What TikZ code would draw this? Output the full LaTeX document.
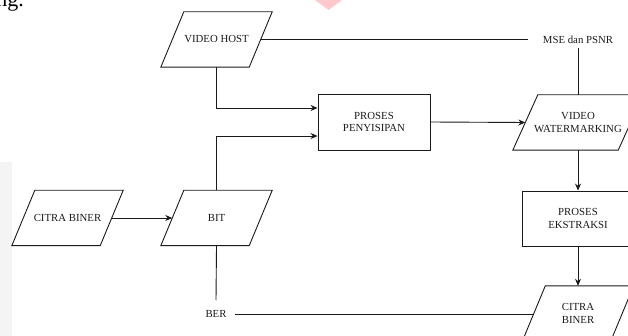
\documentclass[tikz,border=0pt]{standalone}
\usepackage{fontspec}
\setmainfont{Liberation Serif}
\usetikzlibrary{arrows.meta}
\definecolor{ln}{HTML}{1A1A1A}
\definecolor{pinkmark}{RGB}{255,200,205}
\definecolor{strip}{HTML}{F4F4F4}
\tikzset{
  lbl/.style={font=\fontsize{10.8}{12.5}\selectfont, text=ln, align=center},
  para/.style={lbl, rectangle, inner sep=0pt, minimum height=55pt},
  paraline/.style={draw=ln, line width=0.9pt, line join=miter},
  procbox/.style={lbl, draw=ln, line width=0.9pt, rectangle, inner sep=0pt,
    minimum height=56pt},
  conn/.style={draw=ln, line width=0.9pt},
  arr/.style={conn, -{Stealth[length=7pt,width=6pt]}}
}
\begin{document}
\begin{tikzpicture}[x=1pt,y=-1pt]
\useasboundingbox (0,0) rectangle (628,336);
% page artifacts
\fill[strip] (0,162) rectangle (12,336);
\fill[pinkmark] (315,0) -- (342,0) -- (328.5,10) -- cycle;
\node[anchor=base east, font=\fontsize{22}{24}\selectfont, inner sep=0pt] (frag) at (24,7) {ng.};
% nodes (parallelogram nodes: width measured at mid height)
\node[para, minimum width=88pt] (vh) at (216.5,39.5) {VIDEO HOST};
\node[para, minimum width=88pt] (bit) at (216.5,218) {BIT};
\node[para, minimum width=88pt] (cb1) at (67.5,218) {CITRA BINER};
\node[procbox, minimum width=112pt] (pen) at (374,122) {PROSES\\PENYISIPAN};
\node[para, minimum width=105pt] (vw) at (578,122.5) {VIDEO\\WATERMARKING};
\node[procbox, minimum width=112pt, minimum height=55pt] (eks) at (578,218.5) {PROSES\\EKSTRAKSI};
\node[para, minimum width=88pt] (cb2) at (578,313.5) {CITRA\\BINER};
\node[lbl, inner xsep=15pt, inner ysep=4.5pt] (mse) at (578,40) {MSE dan PSNR};
\node[lbl, inner xsep=8pt, inner ysep=10pt] (ber) at (216,314) {BER};
% parallelogram outlines
\foreach \n/\s in {vh/11.5, bit/11.5, cb1/11.5, vw/12.5, cb2/11.5}
  \draw[paraline] ([xshift=-\s pt]\n.south west) -- ([xshift=\s pt]\n.north west)
     -- ([xshift=\s pt]\n.north east) -- ([xshift=-\s pt]\n.south east) -- cycle;
% connectors
\draw[conn] (vh.east) -- (vh.east -| mse.west);
\draw[conn] (mse.south) -- (mse.south |- vw.north);
\draw[arr] (vh.south) |- ([yshift=14pt]pen.west);
\draw[arr] (bit.north) |- ([yshift=-14pt]pen.west);
\draw[arr] (pen.east) -- (vw.west);
\draw[arr] (vw.south) -- (eks.north);
\draw[arr] (eks.south) -- (cb2.north);
\draw[arr] (cb1.east) -- (bit.west);
\draw[conn] (bit.south) -- (ber.north);
\draw[conn] (ber.east) -- (ber.east -| cb2.west);
\end{tikzpicture}
\end{document}
